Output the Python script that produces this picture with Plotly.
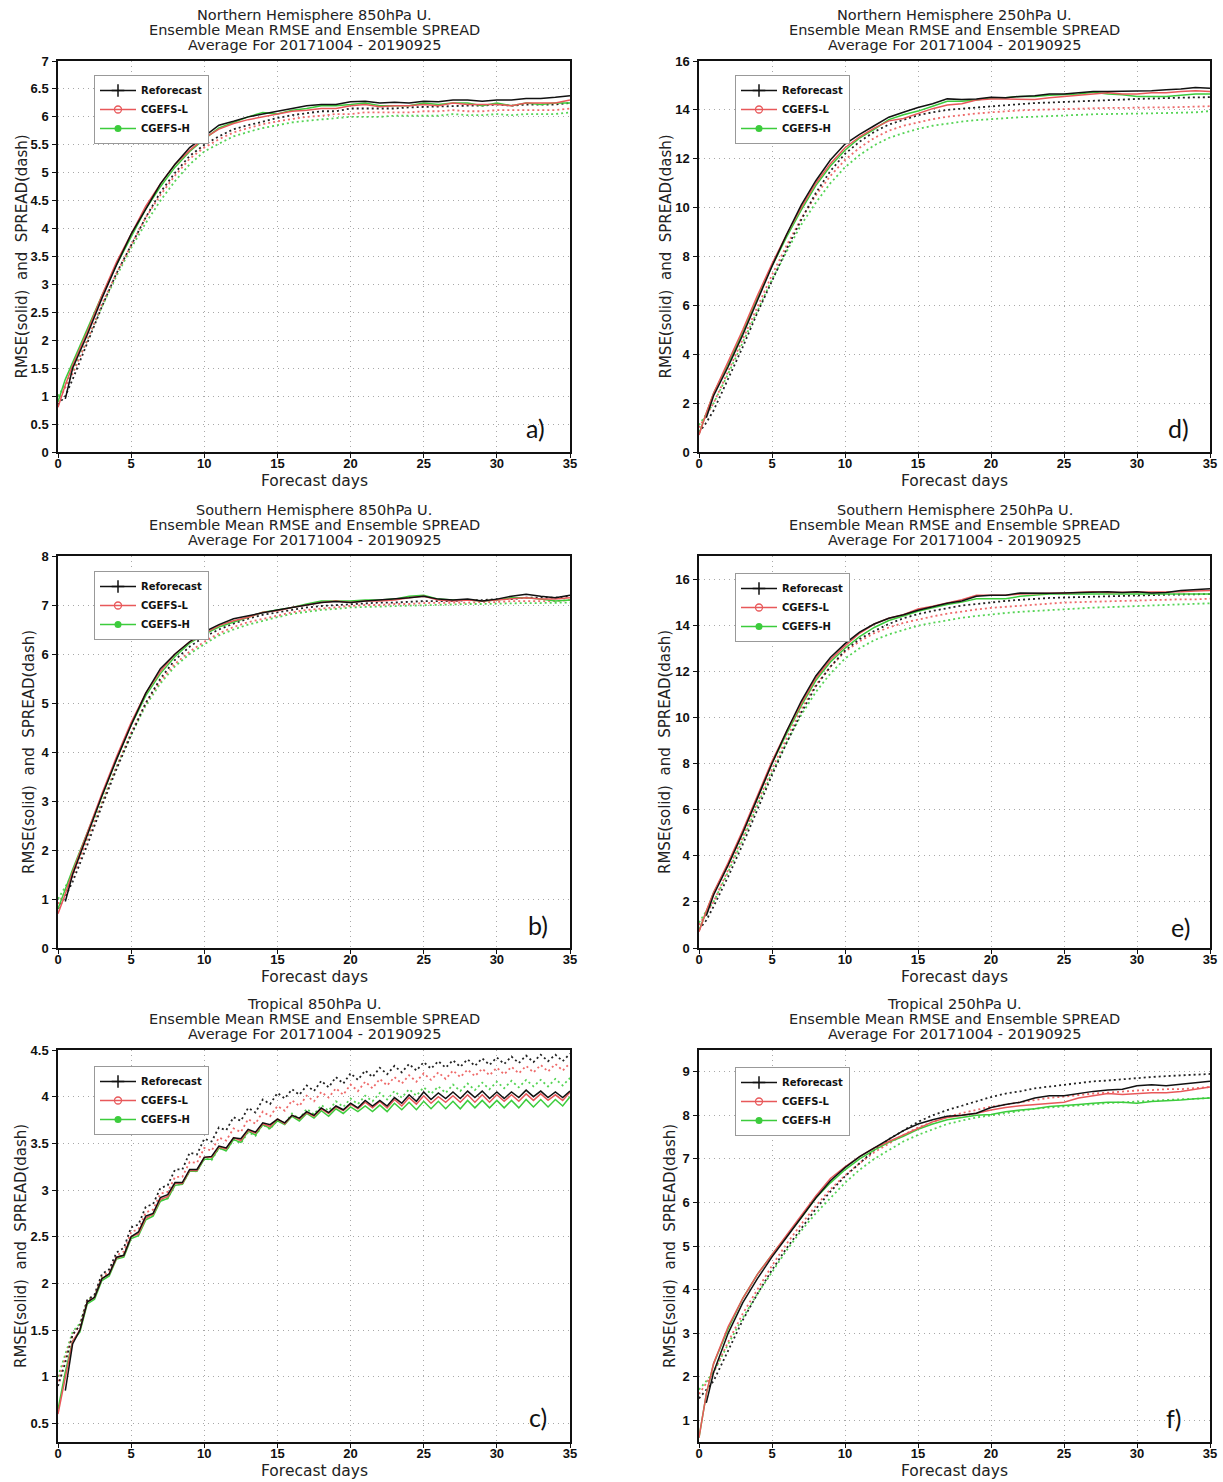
import plotly.graph_objects as go
from plotly.subplots import make_subplots

# ---------------- data ----------------
# forecast-day grids
X_DAY = [0, 0.5] + list(range(1, 36))          # 37 points
X_HALF = [k / 2 for k in range(71)]              # 0, 0.5, ... 35

SERIES = ["Reforecast", "CGEFS-L", "CGEFS-H"]

# a) Northern Hemisphere 850hPa U
REF_A_RMSE = [None, 0.95, 1.5, 2.1, 2.75, 3.35, 3.9, 4.35, 4.8, 5.15, 5.45, 5.65, 5.85, 5.92, 6.0, 6.05, 6.1, 6.15, 6.2, 6.22, 6.22, 6.27, 6.28, 6.25, 6.26, 6.25, 6.28, 6.27, 6.3, 6.3, 6.28, 6.3, 6.3, 6.33, 6.33, 6.35, 6.38]
CGL_A_RMSE = [0.8, 1.2, 1.55, 2.15, 2.8, 3.4, 3.9, 4.4, 4.8, 5.15, 5.4, 5.62, 5.78, 5.88, 5.95, 6.0, 6.05, 6.1, 6.12, 6.15, 6.15, 6.2, 6.22, 6.18, 6.2, 6.2, 6.22, 6.2, 6.25, 6.22, 6.22, 6.22, 6.2, 6.25, 6.25, 6.25, 6.3]
CGH_A_RMSE = [0.9, 1.3, 1.6, 2.2, 2.8, 3.35, 3.85, 4.35, 4.75, 5.1, 5.38, 5.6, 5.8, 5.9, 6.0, 6.08, 6.05, 6.12, 6.15, 6.2, 6.2, 6.22, 6.25, 6.2, 6.2, 6.2, 6.25, 6.22, 6.25, 6.25, 6.2, 6.25, 6.2, 6.25, 6.22, 6.25, 6.25]
REF_A_SPRD = [0.85, 1.0, 1.3, 1.95, 2.6, 3.2, 3.7, 4.2, 4.65, 5.0, 5.3, 5.5, 5.65, 5.78, 5.85, 5.92, 5.98, 6.03, 6.06, 6.1, 6.1, 6.15, 6.15, 6.15, 6.15, 6.17, 6.18, 6.18, 6.2, 6.2, 6.2, 6.22, 6.2, 6.22, 6.22, 6.22, 6.25]
CGL_A_SPRD = [0.9, 1.15, 1.4, 2.0, 2.65, 3.2, 3.7, 4.2, 4.6, 4.95, 5.25, 5.45, 5.6, 5.72, 5.8, 5.87, 5.92, 5.96, 6.0, 6.02, 6.05, 6.05, 6.08, 6.08, 6.08, 6.08, 6.1, 6.1, 6.12, 6.1, 6.1, 6.12, 6.12, 6.12, 6.12, 6.12, 6.15]
CGH_A_SPRD = [1.0, 1.2, 1.45, 2.0, 2.6, 3.15, 3.65, 4.1, 4.5, 4.85, 5.15, 5.38, 5.52, 5.65, 5.73, 5.8, 5.85, 5.9, 5.93, 5.95, 5.98, 6.0, 6.0, 6.0, 6.02, 6.02, 6.02, 6.02, 6.05, 6.03, 6.03, 6.05, 6.03, 6.05, 6.05, 6.05, 6.08]

# b) Southern Hemisphere 850hPa U
REF_B_RMSE = [None, 0.95, 1.5, 2.3, 3.1, 3.85, 4.55, 5.2, 5.7, 6.0, 6.25, 6.45, 6.6, 6.72, 6.78, 6.85, 6.9, 6.95, 7.0, 7.05, 7.07, 7.05, 7.08, 7.1, 7.12, 7.15, 7.18, 7.12, 7.1, 7.12, 7.08, 7.12, 7.18, 7.22, 7.18, 7.15, 7.2]
CGL_B_RMSE = [0.7, 1.1, 1.55, 2.35, 3.15, 3.9, 4.6, 5.2, 5.65, 6.0, 6.25, 6.42, 6.58, 6.68, 6.75, 6.85, 6.88, 6.95, 7.0, 7.05, 7.08, 7.05, 7.08, 7.08, 7.1, 7.15, 7.18, 7.1, 7.08, 7.1, 7.08, 7.1, 7.12, 7.15, 7.12, 7.12, 7.15]
CGH_B_RMSE = [0.8, 1.2, 1.6, 2.35, 3.1, 3.85, 4.55, 5.15, 5.6, 5.95, 6.22, 6.4, 6.55, 6.65, 6.75, 6.85, 6.9, 6.95, 7.02, 7.08, 7.08, 7.08, 7.1, 7.1, 7.12, 7.18, 7.2, 7.12, 7.1, 7.1, 7.08, 7.1, 7.15, 7.15, 7.12, 7.08, 7.1]
REF_B_SPRD = [0.8, 1.05, 1.35, 2.1, 2.9, 3.65, 4.35, 5.0, 5.5, 5.88, 6.15, 6.35, 6.5, 6.62, 6.72, 6.8, 6.85, 6.9, 6.95, 6.98, 7.0, 7.02, 7.03, 7.05, 7.05, 7.07, 7.08, 7.08, 7.08, 7.1, 7.1, 7.12, 7.12, 7.15, 7.15, 7.15, 7.18]
CGL_B_SPRD = [0.9, 1.15, 1.45, 2.2, 2.95, 3.7, 4.4, 5.0, 5.45, 5.8, 6.05, 6.25, 6.42, 6.55, 6.65, 6.72, 6.78, 6.85, 6.9, 6.93, 6.96, 6.98, 7.0, 7.0, 7.02, 7.02, 7.04, 7.04, 7.05, 7.05, 7.06, 7.06, 7.08, 7.08, 7.08, 7.08, 7.1]
CGH_B_SPRD = [1.0, 1.25, 1.5, 2.25, 2.98, 3.7, 4.35, 4.95, 5.4, 5.75, 6.0, 6.2, 6.38, 6.5, 6.6, 6.68, 6.75, 6.82, 6.86, 6.9, 6.92, 6.95, 6.96, 6.97, 6.98, 6.98, 7.0, 7.0, 7.01, 7.02, 7.02, 7.03, 7.03, 7.04, 7.04, 7.05, 7.05]

# c) Tropical 850hPa U (half-day resolution)
REF_C_RMSE = [None, 0.85, 1.35, 1.5, 1.8, 1.85, 2.05, 2.1, 2.28, 2.3, 2.5, 2.55, 2.72, 2.75, 2.92, 2.95, 3.08, 3.08, 3.22, 3.22,
              3.35, 3.36, 3.47, 3.45, 3.56, 3.55, 3.65, 3.62, 3.72, 3.7, 3.76, 3.72, 3.8, 3.77, 3.84, 3.8, 3.88, 3.83, 3.9, 3.86,
              3.93, 3.88, 3.96, 3.9, 3.96, 3.9, 3.99, 3.93, 4.02, 3.95, 4.05, 3.97, 4.04, 3.98, 4.05, 3.98, 4.06, 3.99, 4.06, 3.98,
              4.05, 3.98, 4.05, 3.99, 4.07, 4.0, 4.06, 3.99, 4.05, 3.99, 4.06]
CGL_C_RMSE = [0.6, 1.0, 1.38, 1.5, 1.8, 1.85, 2.05, 2.1, 2.27, 2.3, 2.5, 2.53, 2.7, 2.74, 2.9, 2.93, 3.07, 3.07, 3.21, 3.21,
              3.35, 3.35, 3.46, 3.44, 3.56, 3.53, 3.64, 3.61, 3.71, 3.68, 3.76, 3.71, 3.8, 3.76, 3.83, 3.79, 3.87, 3.82, 3.89, 3.85,
              3.92, 3.87, 3.94, 3.88, 3.95, 3.88, 3.97, 3.9, 3.99, 3.92, 4.01, 3.93, 4.0, 3.94, 4.01, 3.94, 4.02, 3.94, 4.02, 3.94,
              4.02, 3.95, 4.02, 3.95, 4.03, 3.96, 4.03, 3.96, 4.02, 3.96, 4.05]
CGH_C_RMSE = [0.65, 1.05, 1.38, 1.48, 1.78, 1.83, 2.03, 2.08, 2.26, 2.28, 2.48, 2.51, 2.68, 2.72, 2.88, 2.91, 3.05, 3.06, 3.2, 3.2,
              3.33, 3.33, 3.45, 3.42, 3.54, 3.51, 3.63, 3.59, 3.7, 3.66, 3.74, 3.7, 3.79, 3.74, 3.82, 3.77, 3.85, 3.79, 3.87, 3.82,
              3.89, 3.84, 3.9, 3.84, 3.91, 3.84, 3.93, 3.86, 3.94, 3.86, 3.95, 3.87, 3.95, 3.87, 3.95, 3.87, 3.96, 3.88, 3.96, 3.88,
              3.96, 3.88, 3.96, 3.88, 3.97, 3.89, 3.97, 3.89, 3.97, 3.9, 4.0]
REF_C_SPRD = [0.9, 1.15, 1.45, 1.55, 1.82, 1.88, 2.1, 2.15, 2.33, 2.38, 2.6, 2.63, 2.82, 2.85, 3.02, 3.05, 3.22, 3.22, 3.4, 3.38,
              3.55, 3.52, 3.67, 3.64, 3.78, 3.74, 3.88, 3.83, 3.97, 3.92, 4.04, 3.98, 4.08, 4.02, 4.12, 4.06, 4.17, 4.1, 4.21, 4.14,
              4.25, 4.18, 4.28, 4.21, 4.31, 4.24, 4.33, 4.26, 4.35, 4.28, 4.37, 4.3, 4.38, 4.31, 4.39, 4.32, 4.4, 4.33, 4.41, 4.34,
              4.42, 4.35, 4.43, 4.36, 4.44, 4.37, 4.45, 4.38, 4.45, 4.38, 4.46]
CGL_C_SPRD = [0.95, 1.2, 1.45, 1.55, 1.82, 1.87, 2.08, 2.12, 2.3, 2.34, 2.55, 2.58, 2.76, 2.79, 2.96, 2.98, 3.14, 3.14, 3.3, 3.29,
              3.45, 3.42, 3.56, 3.53, 3.66, 3.62, 3.76, 3.71, 3.84, 3.79, 3.9, 3.85, 3.96, 3.9, 4.01, 3.95, 4.05, 3.99, 4.09, 4.02,
              4.13, 4.06, 4.16, 4.09, 4.19, 4.12, 4.21, 4.14, 4.23, 4.16, 4.25, 4.18, 4.26, 4.19, 4.28, 4.21, 4.29, 4.22, 4.3, 4.23,
              4.31, 4.24, 4.32, 4.25, 4.33, 4.26, 4.34, 4.27, 4.35, 4.28, 4.36]
CGH_C_SPRD = [1.0, 1.25, 1.48, 1.57, 1.82, 1.86, 2.06, 2.1, 2.27, 2.31, 2.5, 2.53, 2.7, 2.73, 2.89, 2.91, 3.06, 3.06, 3.21, 3.2,
              3.34, 3.32, 3.45, 3.42, 3.54, 3.5, 3.62, 3.58, 3.7, 3.65, 3.76, 3.71, 3.82, 3.76, 3.87, 3.81, 3.91, 3.85, 3.95, 3.89,
              3.98, 3.92, 4.01, 3.95, 4.04, 3.97, 4.06, 3.99, 4.08, 4.01, 4.1, 4.03, 4.11, 4.04, 4.13, 4.06, 4.14, 4.07, 4.15, 4.08,
              4.16, 4.09, 4.17, 4.1, 4.18, 4.11, 4.18, 4.11, 4.19, 4.12, 4.2]

# d) Northern Hemisphere 250hPa U
REF_D_RMSE = [None, 1.4, 2.3, 3.5, 4.8, 6.2, 7.6, 8.9, 10.1, 11.1, 11.95, 12.6, 13.0, 13.35, 13.7, 13.9, 14.1, 14.25, 14.45, 14.42, 14.45, 14.52, 14.5, 14.55, 14.58, 14.65, 14.65, 14.7, 14.75, 14.75, 14.75, 14.78, 14.78, 14.82, 14.85, 14.92, 14.88]
CGL_D_RMSE = [0.7, 1.6, 2.4, 3.7, 5.0, 6.4, 7.7, 8.9, 10.0, 11.0, 11.8, 12.45, 12.9, 13.25, 13.55, 13.65, 13.85, 14.05, 14.2, 14.25, 14.4, 14.45, 14.45, 14.45, 14.42, 14.5, 14.55, 14.6, 14.65, 14.7, 14.65, 14.65, 14.7, 14.7, 14.75, 14.78, 14.75]
CGH_D_RMSE = [0.75, 1.6, 2.4, 3.6, 4.9, 6.3, 7.6, 8.8, 9.9, 10.9, 11.7, 12.35, 12.85, 13.2, 13.6, 13.8, 13.95, 14.15, 14.35, 14.35, 14.4, 14.5, 14.5, 14.55, 14.55, 14.6, 14.62, 14.65, 14.72, 14.65, 14.62, 14.55, 14.55, 14.55, 14.6, 14.65, 14.65]
REF_D_SPRD = [0.8, 1.2, 1.7, 3.0, 4.3, 5.7, 7.0, 8.3, 9.5, 10.6, 11.5, 12.2, 12.7, 13.1, 13.4, 13.6, 13.78, 13.9, 14.0, 14.05, 14.1, 14.15, 14.2, 14.25, 14.28, 14.3, 14.32, 14.35, 14.38, 14.4, 14.42, 14.45, 14.45, 14.48, 14.5, 14.5, 14.52]
CGL_D_SPRD = [1.0, 1.5, 2.0, 3.3, 4.6, 5.95, 7.25, 8.45, 9.55, 10.5, 11.3, 11.95, 12.45, 12.85, 13.15, 13.35, 13.5, 13.62, 13.72, 13.8, 13.85, 13.9, 13.95, 13.98, 14.0, 14.02, 14.03, 14.05, 14.07, 14.08, 14.08, 14.1, 14.1, 14.1, 14.12, 14.12, 14.15]
CGH_D_SPRD = [1.1, 1.55, 2.0, 3.2, 4.5, 5.8, 7.05, 8.2, 9.3, 10.2, 11.0, 11.65, 12.15, 12.55, 12.85, 13.05, 13.22, 13.35, 13.45, 13.52, 13.58, 13.63, 13.68, 13.7, 13.72, 13.75, 13.77, 13.8, 13.82, 13.83, 13.85, 13.85, 13.86, 13.87, 13.88, 13.9, 13.95]

# e) Southern Hemisphere 250hPa U
REF_E_RMSE = [None, 1.4, 2.3, 3.6, 5.0, 6.5, 8.0, 9.4, 10.7, 11.8, 12.6, 13.2, 13.7, 14.05, 14.3, 14.45, 14.65, 14.8, 14.95, 15.05, 15.25, 15.3, 15.3, 15.4, 15.38, 15.38, 15.4, 15.42, 15.42, 15.45, 15.42, 15.45, 15.4, 15.42, 15.5, 15.55, 15.58]
CGL_E_RMSE = [0.7, 1.6, 2.4, 3.7, 5.1, 6.6, 8.1, 9.4, 10.6, 11.7, 12.5, 13.1, 13.65, 14.05, 14.3, 14.45, 14.7, 14.82, 14.95, 15.1, 15.3, 15.3, 15.3, 15.35, 15.35, 15.38, 15.4, 15.42, 15.45, 15.42, 15.42, 15.45, 15.42, 15.42, 15.45, 15.48, 15.5]
CGH_E_RMSE = [0.75, 1.6, 2.4, 3.6, 5.0, 6.5, 8.0, 9.3, 10.5, 11.6, 12.4, 13.0, 13.5, 13.9, 14.2, 14.4, 14.6, 14.75, 14.9, 15.0, 15.15, 15.15, 15.15, 15.25, 15.3, 15.35, 15.35, 15.35, 15.35, 15.35, 15.35, 15.35, 15.35, 15.35, 15.35, 15.35, 15.35]
REF_E_SPRD = [0.8, 1.2, 1.8, 3.1, 4.5, 6.0, 7.5, 8.9, 10.2, 11.35, 12.2, 12.9, 13.4, 13.75, 14.05, 14.3, 14.48, 14.62, 14.75, 14.85, 14.92, 15.0, 15.05, 15.1, 15.15, 15.18, 15.2, 15.22, 15.25, 15.27, 15.28, 15.3, 15.3, 15.32, 15.33, 15.35, 15.35]
CGL_E_SPRD = [1.0, 1.5, 2.0, 3.4, 4.8, 6.3, 7.75, 9.1, 10.35, 11.4, 12.2, 12.85, 13.3, 13.65, 13.9, 14.1, 14.25, 14.38, 14.5, 14.6, 14.68, 14.75, 14.8, 14.85, 14.9, 14.95, 14.98, 15.0, 15.02, 15.05, 15.07, 15.08, 15.1, 15.1, 15.12, 15.12, 15.15]
CGH_E_SPRD = [1.1, 1.6, 2.0, 3.3, 4.7, 6.2, 7.6, 8.9, 10.1, 11.1, 11.9, 12.55, 13.0, 13.35, 13.6, 13.8, 13.98, 14.1, 14.22, 14.32, 14.4, 14.48, 14.53, 14.58, 14.62, 14.66, 14.7, 14.73, 14.76, 14.78, 14.8, 14.82, 14.85, 14.87, 14.88, 14.9, 14.95]

# f) Tropical 250hPa U
REF_F_RMSE = [None, 1.4, 2.1, 3.0, 3.7, 4.25, 4.75, 5.2, 5.65, 6.1, 6.5, 6.8, 7.05, 7.25, 7.45, 7.65, 7.8, 7.9, 7.98, 8.0, 8.05, 8.18, 8.25, 8.3, 8.4, 8.45, 8.45, 8.5, 8.55, 8.58, 8.6, 8.68, 8.7, 8.68, 8.72, 8.75, 8.78]
CGL_F_RMSE = [0.6, 1.6, 2.3, 3.15, 3.8, 4.35, 4.8, 5.25, 5.7, 6.15, 6.55, 6.82, 7.05, 7.25, 7.4, 7.55, 7.7, 7.85, 7.95, 8.0, 8.05, 8.12, 8.18, 8.22, 8.25, 8.28, 8.3, 8.4, 8.45, 8.5, 8.48, 8.5, 8.52, 8.52, 8.55, 8.6, 8.65]
CGH_F_RMSE = [0.6, 1.6, 2.3, 3.1, 3.8, 4.35, 4.8, 5.22, 5.65, 6.1, 6.45, 6.75, 7.0, 7.2, 7.38, 7.52, 7.68, 7.8, 7.9, 7.95, 8.0, 8.02, 8.08, 8.12, 8.15, 8.2, 8.22, 8.25, 8.28, 8.3, 8.3, 8.28, 8.32, 8.33, 8.35, 8.38, 8.4]
REF_F_SPRD = [1.5, 1.7, 1.9, 2.6, 3.3, 3.9, 4.45, 4.95, 5.4, 5.85, 6.25, 6.6, 6.9, 7.2, 7.45, 7.65, 7.85, 8.0, 8.12, 8.22, 8.32, 8.42, 8.5, 8.55, 8.62, 8.66, 8.7, 8.74, 8.78, 8.8, 8.83, 8.86, 8.88, 8.9, 8.92, 8.93, 8.95]
CGL_F_SPRD = [1.6, 1.85, 2.1, 2.8, 3.45, 4.0, 4.55, 5.05, 5.5, 5.92, 6.3, 6.62, 6.9, 7.15, 7.35, 7.55, 7.72, 7.85, 7.97, 8.05, 8.12, 8.2, 8.25, 8.3, 8.35, 8.4, 8.43, 8.47, 8.5, 8.52, 8.55, 8.57, 8.58, 8.6, 8.6, 8.62, 8.65]
CGH_F_SPRD = [1.7, 1.9, 2.1, 2.75, 3.35, 3.9, 4.4, 4.9, 5.35, 5.75, 6.1, 6.45, 6.75, 7.0, 7.2, 7.4, 7.55, 7.68, 7.8, 7.88, 7.95, 8.0, 8.05, 8.1, 8.15, 8.18, 8.2, 8.23, 8.25, 8.28, 8.3, 8.32, 8.33, 8.35, 8.37, 8.38, 8.4]

PANEL_TITLES = ["Northern Hemisphere 850hPa U.", "Northern Hemisphere 250hPa U.",
                "Southern Hemisphere 850hPa U.", "Southern Hemisphere 250hPa U.",
                "Tropical 850hPa U.", "Tropical 250hPa U."]
PANEL_LETTERS = ["a)", "d)", "b)", "e)", "c)", "f)"]
SUBTITLE_1 = "Ensemble Mean RMSE and Ensemble SPREAD"
SUBTITLE_2 = "Average For 20171004 - 20190925"
Y_TITLE = "RMSE(solid)  and  SPREAD(dash)"
X_TITLE = "Forecast days"

# ---------------- styling / layout ----------------
W, H = 1223, 1482
COLORS = ["#111111", "#e8585a", "#3ccc3c"]
DOT_COLORS = ["#222222", "#ee6a6a", "#55d455"]

def px(x):
    return x / W

def py(y):
    return 1 - y / H

COL_PX = [(58, 570), (699, 1210)]
ROW_PX = [(61, 452), (556, 948), (1050, 1442)]

panels = [
    dict(x=X_DAY, rmse=[REF_A_RMSE, CGL_A_RMSE, CGH_A_RMSE], sprd=[REF_A_SPRD, CGL_A_SPRD, CGH_A_SPRD],
         yr=[0, 7], tick0=0, dtick=0.5, row=0, col=0),
    dict(x=X_DAY, rmse=[REF_D_RMSE, CGL_D_RMSE, CGH_D_RMSE], sprd=[REF_D_SPRD, CGL_D_SPRD, CGH_D_SPRD],
         yr=[0, 16], tick0=0, dtick=2, row=0, col=1),
    dict(x=X_DAY, rmse=[REF_B_RMSE, CGL_B_RMSE, CGH_B_RMSE], sprd=[REF_B_SPRD, CGL_B_SPRD, CGH_B_SPRD],
         yr=[0, 8], tick0=0, dtick=1, row=1, col=0),
    dict(x=X_DAY, rmse=[REF_E_RMSE, CGL_E_RMSE, CGH_E_RMSE], sprd=[REF_E_SPRD, CGL_E_SPRD, CGH_E_SPRD],
         yr=[0, 17], tick0=0, dtick=2, row=1, col=1),
    dict(x=X_HALF, rmse=[REF_C_RMSE, CGL_C_RMSE, CGH_C_RMSE], sprd=[REF_C_SPRD, CGL_C_SPRD, CGH_C_SPRD],
         yr=[0.3, 4.5], tick0=0.5, dtick=0.5, row=2, col=0),
    dict(x=X_DAY, rmse=[REF_F_RMSE, CGL_F_RMSE, CGH_F_RMSE], sprd=[REF_F_SPRD, CGL_F_SPRD, CGH_F_SPRD],
         yr=[0.5, 9.5], tick0=1, dtick=1, row=2, col=1),
]

YTITLE_X = [21, 665, 29, 665, 21, 670]
LETTER_POS = [(535, 428), (1178, 428), (538, 925), (1180, 927), (538, 1417), (1174, 1418)]
LEGEND_POS = [(94, 75), (735, 75), (94, 571), (735, 573), (94, 1066), (735, 1067)]

fig = make_subplots(rows=3, cols=2)

annotations = []
layout_upd = {}
for i, p in enumerate(panels):
    n = i + 1
    sfx = "" if n == 1 else str(n)
    xa, ya = "x" + sfx, "y" + sfx
    for s in p["rmse"] + p["sprd"]:
        assert len(s) == len(p["x"]), (i, len(s))
    # spread (dotted)
    for k in (2, 1, 0):
        fig.add_trace(go.Scatter(x=p["x"], y=p["sprd"][k], mode="lines", showlegend=False,
                                 line=dict(color=DOT_COLORS[k], width=1.8, dash="2px,3px"),
                                 xaxis=xa, yaxis=ya, hoverinfo="skip"))
    # rmse (solid)
    for k in (2, 1, 0):
        fig.add_trace(go.Scatter(x=p["x"], y=p["rmse"][k], mode="lines", showlegend=False,
                                 line=dict(color=COLORS[k], width=1.5),
                                 xaxis=xa, yaxis=ya, hoverinfo="skip"))
    # legend entries
    lg = "legend" + sfx
    markers = [dict(symbol="cross-thin-open", size=9, color=COLORS[0], line=dict(width=1.5, color=COLORS[0])),
               dict(symbol="circle-open", size=7, color=COLORS[1], line=dict(width=1.3, color=COLORS[1])),
               dict(symbol="circle", size=7, color=COLORS[2])]
    for k in range(3):
        fig.add_trace(go.Scatter(x=[None], y=[None], mode="lines+markers", name=SERIES[k],
                                 line=dict(color=COLORS[k], width=1.5), marker=markers[k],
                                 legend=lg, xaxis=xa, yaxis=ya, showlegend=True))
    lx, ly = LEGEND_POS[i]
    layout_upd[lg] = dict(x=px(lx), y=py(ly), xanchor="left", yanchor="top",
                          bgcolor="white", bordercolor="#999999", borderwidth=1,
                          font=dict(family="DejaVu Sans", size=10, color="#111111", weight="bold"),
                          tracegroupgap=0, itemwidth=36)

    x0, x1 = COL_PX[p["col"]]
    y0, y1 = ROW_PX[p["row"]]
    axis_common = dict(showline=True, linecolor="#111111", linewidth=1.5, mirror=True,
                       ticks="outside", ticklen=4, tickcolor="#111111",
                       showgrid=True, gridcolor="#a8a8a8", griddash="1px,4px", gridwidth=1.3,
                       zeroline=False, automargin=False,
                       tickfont=dict(family="Liberation Sans", size=13, color="#111111", weight="bold"))
    layout_upd["xaxis" + sfx] = dict(domain=[px(x0), px(x1)], range=[0, 35], tick0=0, dtick=5,
                                     ticklabelstandoff=-5, **axis_common)
    layout_upd["yaxis" + sfx] = dict(domain=[py(y1), py(y0)], range=p["yr"], tick0=p["tick0"],
                                     dtick=p["dtick"], ticklabelstandoff=1, **axis_common)

    cx = (x0 + x1) / 2
    tfont = dict(family="DejaVu Sans", size=14.5, color="#222222")
    for j, t in enumerate([PANEL_TITLES[i], SUBTITLE_1, SUBTITLE_2]):
        annotations.append(dict(text=t, x=px(cx), y=py(y0 - 46 + 15 * j), xref="paper", yref="paper",
                                xanchor="center", yanchor="middle", showarrow=False, font=tfont))
    annotations.append(dict(text=X_TITLE, x=px(cx), y=py(y1 + 29), xref="paper", yref="paper",
                            xanchor="center", yanchor="middle", showarrow=False,
                            font=dict(family="DejaVu Sans", size=15.5, color="#222222")))
    annotations.append(dict(text=Y_TITLE, x=px(YTITLE_X[i]), y=py((y0 + y1) / 2), xref="paper", yref="paper",
                            xanchor="center", yanchor="middle", showarrow=False, textangle=-90,
                            font=dict(family="DejaVu Sans", size=15, color="#222222")))
    lxp, lyp = LETTER_POS[i]
    annotations.append(dict(text=PANEL_LETTERS[i], x=px(lxp), y=py(lyp), xref="paper", yref="paper",
                            xanchor="center", yanchor="middle", showarrow=False,
                            font=dict(family="Lato", size=25, color="#111111")))

fig.update_layout(**layout_upd)
fig.update_layout(width=W, height=H, autosize=False, margin=dict(l=0, r=0, t=0, b=0),
                  paper_bgcolor="white", plot_bgcolor="white", annotations=annotations)

# remove the default page margin so the figure fills the window exactly; hide the modebar
fig.write_html("out.html", config={"displayModeBar": False},
               post_script="document.body.style.margin='0';document.body.style.overflow='hidden';")
